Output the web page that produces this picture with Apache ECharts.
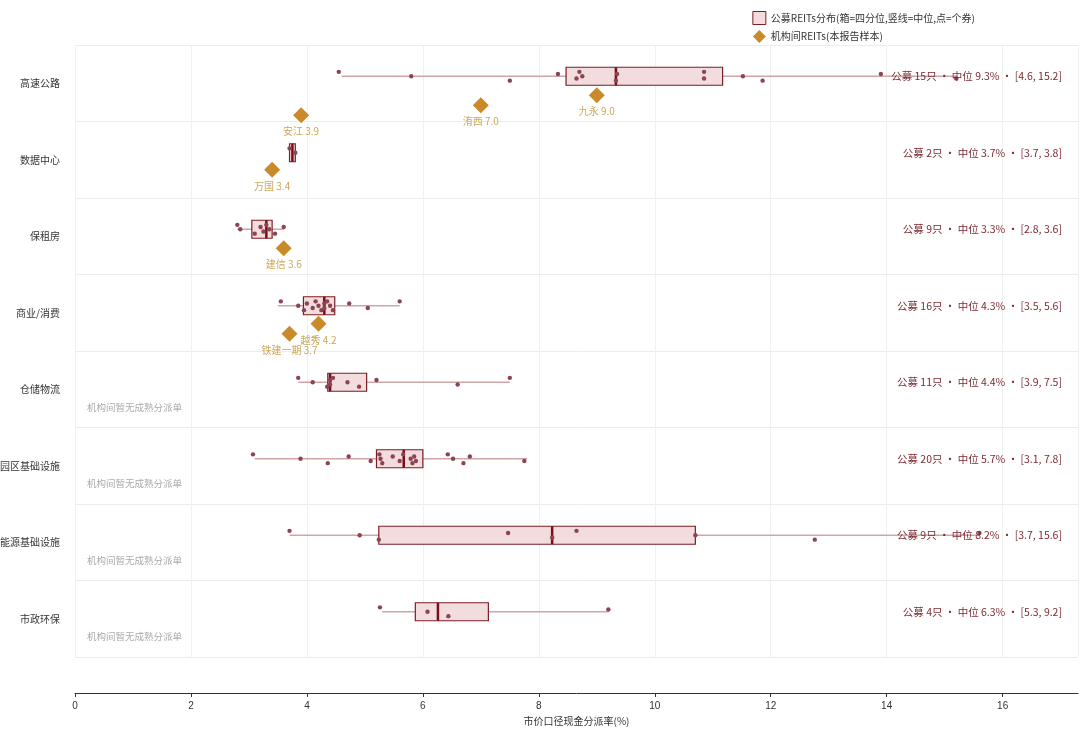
<!DOCTYPE html>
<html>
<head>
<meta charset="utf-8">
<script src="https://cdn.jsdelivr.net/npm/echarts@6/dist/echarts.min.js"></script>
<style>html,body{margin:0;padding:0;background:#fff}#main{width:1080px;height:742px}</style>
</head>
<body>
<div id="main"></div>
<script>
// 板块
var categories = ['高速公路', '数据中心', '保租房', '商业/消费', '仓储物流', '园区基础设施', '能源基础设施', '市政环保'];
// 箱体 [最小, 下四分位, 中位, 上四分位, 最大]
var boxStats = [
    [4.6, 8.47, 9.33, 11.17, 15.2],
    [3.7, 3.7, 3.75, 3.8, 3.8],
    [2.8, 3.05, 3.3, 3.4, 3.6],
    [3.5, 3.94, 4.3, 4.48, 5.6],
    [3.85, 4.36, 4.4, 5.03, 7.5],
    [3.1, 5.2, 5.67, 6.0, 7.8],
    [3.7, 5.24, 8.23, 10.7, 15.6],
    [5.3, 5.87, 6.26, 7.13, 9.2]
];
// 个券
var points = [
    [4.55, 5.8, 7.5, 8.33, 8.65, 8.7, 8.75, 9.33, 9.35, 10.85, 10.85, 11.52, 11.86, 13.9, 15.2],
    [3.7, 3.8],
    [2.8, 2.85, 3.1, 3.2, 3.25, 3.3, 3.35, 3.45, 3.6],
    [3.55, 3.85, 3.95, 4.0, 4.1, 4.15, 4.2, 4.25, 4.3, 4.3, 4.35, 4.4, 4.45, 4.73, 5.05, 5.6],
    [3.85, 4.1, 4.35, 4.4, 4.4, 4.45, 4.7, 4.9, 5.2, 6.6, 7.5],
    [3.07, 3.89, 4.36, 4.72, 5.1, 5.25, 5.27, 5.3, 5.48, 5.6, 5.66, 5.79, 5.82, 5.85, 5.88, 6.43, 6.52, 6.7, 6.81, 7.75],
    [3.7, 4.91, 5.24, 7.47, 8.23, 8.65, 10.7, 12.76, 15.6],
    [5.26, 6.08, 6.44, 9.2]
];
var summaryText = [
    '公募 15只 · 中位 9.3% · [4.6, 15.2]',
    '公募 2只 · 中位 3.7% · [3.7, 3.8]',
    '公募 9只 · 中位 3.3% · [2.8, 3.6]',
    '公募 16只 · 中位 4.3% · [3.5, 5.6]',
    '公募 11只 · 中位 4.4% · [3.9, 7.5]',
    '公募 20只 · 中位 5.7% · [3.1, 7.8]',
    '公募 9只 · 中位 8.2% · [3.7, 15.6]',
    '公募 4只 · 中位 6.3% · [5.3, 9.2]'
];
// 机构间REITs
var instNames = ['安江', '洧西', '九永', '万国', '建信', '越秀', '铁建一期'];
var instValues = [3.9, 7.0, 9.0, 3.4, 3.6, 4.2, 3.7];
var instCats = [0, 0, 0, 1, 2, 3, 3];
var instOffset = [39, 29, 19, 17, 19, 18, 28]; // 相对类目中心的像素偏移
var noDealCats = [4, 5, 6, 7];

var chart = echarts.init(document.getElementById('main'));
var BOX_SHIFT = -7;

var boxData = boxStats.map(function (s, i) { return [i].concat(s); });
var dotData = [];
points.forEach(function (arr, c) {
    arr.forEach(function (v, k) { dotData.push([v, c, ((k * 7) % 5 - 2) * 2.2]); });
});
var instData = instValues.map(function (v, i) { return [v, instCats[i], instOffset[i], instNames[i]]; });

var option = {
    animation: false,
    grid: { left: 75, right: 2, top: 45, bottom: 85, containLabel: false, outerBoundsMode: 'none' },
    legend: {
        right: 100, top: 6, orient: 'vertical', itemWidth: 13, itemHeight: 13, itemGap: 5,
        textStyle: { fontSize: 10, color: '#333', fontFamily: 'Noto Sans CJK SC' },
        data: [
            { name: '公募REITs分布(箱=四分位,竖线=中位,点=个券)', icon: 'rect', itemStyle: { color: '#f3dcdd', borderColor: '#7a1f25', borderWidth: 1 } },
            { name: '机构间REITs(本报告样本)', icon: 'diamond', itemStyle: { color: '#c98a2a' } }
        ]
    },
    xAxis: {
        type: 'value', min: 0, max: 17.3, interval: 2, offset: 36,
        name: '市价口径现金分派率(%)', nameLocation: 'middle', nameGap: 16,
        nameTextStyle: { fontSize: 10, color: '#333', fontFamily: 'Noto Sans CJK SC' },
        axisLine: { show: true, lineStyle: { color: '#333' } },
        axisTick: { show: true, length: 4, lineStyle: { color: '#333' } },
        axisLabel: { fontSize: 10, color: '#333', showMaxLabel: false },
        splitLine: { show: true, lineStyle: { color: '#f0f0f0' } }
    },
    yAxis: {
        type: 'category', data: categories, inverse: true,
        axisLine: { show: false }, axisTick: { show: false },
        axisLabel: { fontSize: 10, color: '#333', margin: 15, fontFamily: 'Noto Sans CJK SC' },
        splitLine: { show: true, lineStyle: { color: '#ececec' } }
    },
    series: [
        {
            name: '公募REITs分布(箱=四分位,竖线=中位,点=个券)',
            type: 'custom', data: boxData, z: 2,
            encode: { x: [1, 2, 3, 4, 5], y: 0 },
            renderItem: function (params, api) {
                var c = api.value(0);
                var y = api.coord([0, c])[1] + BOX_SHIFT;
                var pMin = api.coord([api.value(1), c])[0];
                var pQ1 = api.coord([api.value(2), c])[0];
                var pMed = api.coord([api.value(3), c])[0];
                var pQ3 = api.coord([api.value(4), c])[0];
                var pMax = api.coord([api.value(5), c])[0];
                var h = 18;
                return {
                    type: 'group', children: [
                        { type: 'line', shape: { x1: pMin, y1: y, x2: pMax, y2: y }, style: { stroke: '#cfa5a8', lineWidth: 1.5 } },
                        { type: 'rect', shape: { x: pQ1, y: y - h / 2, width: Math.max(pQ3 - pQ1, 2), height: h }, style: { fill: '#f3dcdd', stroke: '#7a1f25', lineWidth: 1.2 } },
                        { type: 'line', shape: { x1: pMed, y1: y - h / 2, x2: pMed, y2: y + h / 2 }, style: { stroke: '#7a0d15', lineWidth: 2.5 } }
                    ]
                };
            }
        },
        {
            type: 'custom', data: dotData, z: 3,
            encode: { x: 0, y: 1 },
            renderItem: function (params, api) {
                var p = api.coord([api.value(0), api.value(1)]);
                return { type: 'circle', shape: { cx: p[0], cy: p[1] + BOX_SHIFT + api.value(2), r: 2.2 }, style: { fill: '#8c4452' } };
            }
        },
        {
            name: '机构间REITs(本报告样本)',
            type: 'custom', data: instData, z: 4,
            encode: { x: 0, y: 1 },
            renderItem: function (params, api) {
                var p = api.coord([api.value(0), api.value(1)]);
                var y = p[1] + BOX_SHIFT + api.value(2);
                var s = 8;
                return {
                    type: 'group', children: [
                        { type: 'polygon', shape: { points: [[p[0], y - s], [p[0] + s, y], [p[0], y + s], [p[0] - s, y]] }, style: { fill: '#c98a2a' } },
                        { type: 'text', style: { x: p[0], y: y + 11, text: instNames[params.dataIndex] + ' ' + api.value(0).toFixed(1), align: 'center', verticalAlign: 'top', fill: '#c9a75c', font: '10px "Noto Sans CJK SC"' } }
                    ]
                };
            }
        },
        {
            type: 'custom', data: summaryText.map(function (t, i) { return [i]; }), z: 5,
            encode: { y: 0 },
            renderItem: function (params, api) {
                var y = api.coord([0, api.value(0)])[1] + BOX_SHIFT;
                return { type: 'text', style: { x: 1062, y: y, text: summaryText[params.dataIndex], align: 'right', verticalAlign: 'middle', fill: '#7a2a32', font: '10.5px "Noto Sans CJK SC"' } };
            }
        },
        {
            type: 'custom', data: noDealCats.map(function (c) { return [c]; }), z: 5,
            encode: { y: 0 },
            renderItem: function (params, api) {
                var y = api.coord([0, api.value(0)])[1] + 18;
                return { type: 'text', style: { x: 87, y: y, text: '机构间暂无成熟分派单', align: 'left', verticalAlign: 'middle', fill: '#aaaaaa', font: '9.5px "Noto Sans CJK SC"' } };
            }
        }
    ]
};
chart.setOption(option);
</script>
</body>
</html>
